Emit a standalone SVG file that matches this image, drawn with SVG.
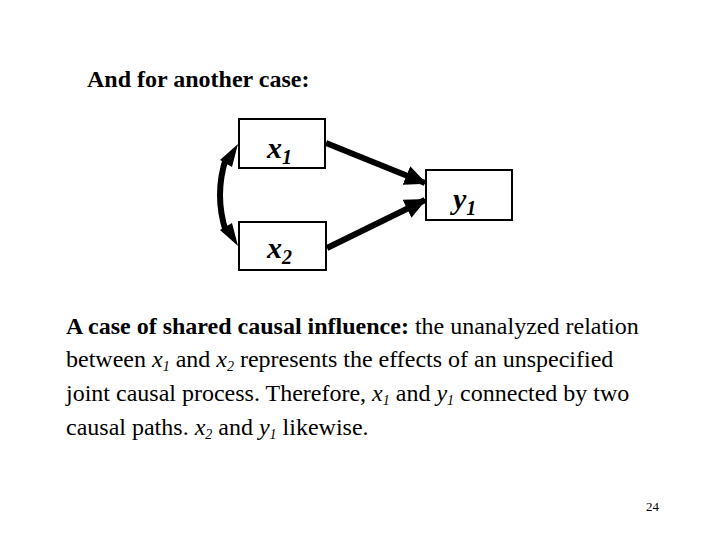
<svg xmlns="http://www.w3.org/2000/svg" width="720" height="540" viewBox="0 0 720 540">
<style>
.box{fill:#fff;stroke:#000;stroke-width:2}
.lbl{font-family:"Liberation Serif",serif;font-size:30px;font-weight:bold;font-style:italic}
.sub{font-size:20px}
.txt{font-family:"Liberation Serif",serif;font-size:24px}
.s{font-style:italic;font-size:14px}
.conn{stroke:#000;stroke-width:6;fill:none}
</style>
<defs>
<marker id="ah" markerUnits="userSpaceOnUse" markerWidth="22" markerHeight="20" refX="20" refY="10" orient="auto">
<path d="M0,0 L22,10 L0,20 Z" fill="#000"/>
</marker>
</defs>
<rect width="720" height="540" fill="#fff"/>
<text x="87" y="87" class="txt" style="font-weight:bold">And for another case:</text>
<g id="connectors">
<line x1="326" y1="143" x2="425" y2="183" class="conn" marker-end="url(#ah)"/>
<line x1="327" y1="248" x2="425" y2="200" class="conn" marker-end="url(#ah)"/>
<path d="M226,158 Q214,195 226,232" class="conn"/>
<path d="M220,160 L238,144 L232,167 Z" fill="#000"/>
<path d="M220,230 L238,246 L232,223 Z" fill="#000"/>
</g>
<g id="x1">
<rect x="239" y="119" width="86" height="49" class="box"/>
<text x="267" y="158" class="lbl">x<tspan class="sub" dy="6">1</tspan></text>
</g>
<g id="x2">
<rect x="239" y="222" width="87" height="48" class="box"/>
<text x="267" y="258" class="lbl">x<tspan class="sub" dy="6">2</tspan></text>
</g>
<g id="y1">
<rect x="426" y="170" width="86" height="50" class="box"/>
<text x="453" y="209" class="lbl">y<tspan class="sub" dy="6">1</tspan></text>
</g>
<text class="txt" x="66" y="334"><tspan font-weight="bold">A case of shared causal influence:</tspan> the unanalyzed relation</text>
<text class="txt" x="66" y="367">between <tspan font-style="italic">x</tspan><tspan class="s" dy="4">1</tspan><tspan dy="-4"> and </tspan><tspan font-style="italic">x</tspan><tspan class="s" dy="4">2</tspan><tspan dy="-4"> represents the effects of an unspecified</tspan></text>
<text class="txt" x="66" y="401">joint causal process. Therefore, <tspan font-style="italic">x</tspan><tspan class="s" dy="4">1</tspan><tspan dy="-4"> and </tspan><tspan font-style="italic">y</tspan><tspan class="s" dy="4">1</tspan><tspan dy="-4"> connected by two</tspan></text>
<text class="txt" x="66" y="435">causal paths. <tspan font-style="italic">x</tspan><tspan class="s" dy="4">2</tspan><tspan dy="-4"> and </tspan><tspan font-style="italic">y</tspan><tspan class="s" dy="4">1</tspan><tspan dy="-4"> likewise.</tspan></text>
<text x="646" y="511" style="font-family:'Liberation Serif',serif;font-size:13px">24</text>
</svg>
